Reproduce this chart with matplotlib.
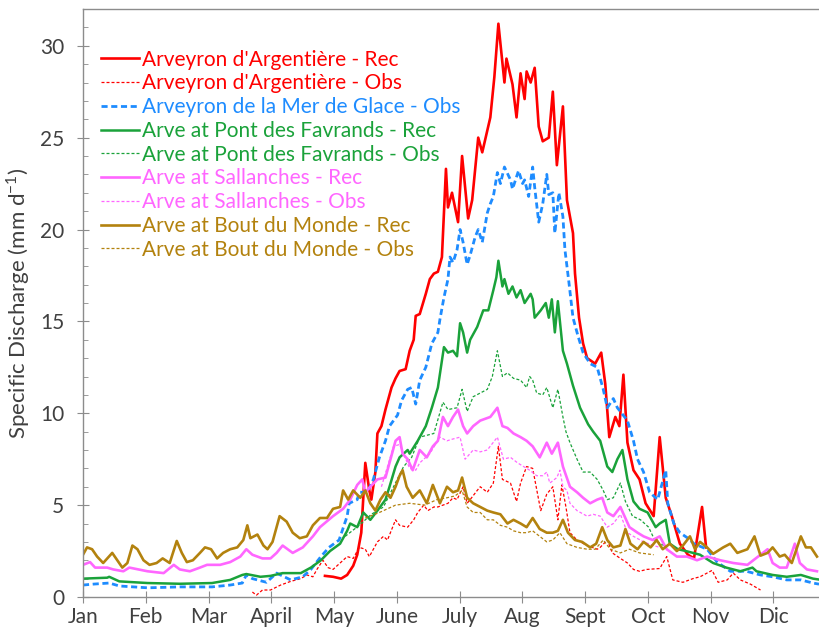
import matplotlib
matplotlib.use("Agg")
import matplotlib.pyplot as plt
from matplotlib.ticker import MultipleLocator, FixedLocator
import numpy as np

# ---------------- data (day of year, specific discharge mm/d) ----------------
months = ["Jan", "Feb", "Mar", "April", "May", "June", "July", "Aug", "Sept", "Oct", "Nov", "Dic"]

arg_rec_day = [120, 124, 128, 131, 134, 136, 138, 140, 142, 143, 145, 146, 148, 150, 153, 155, 157, 160, 162, 164,
               165, 167, 170, 172, 174, 176, 178, 180, 181, 183, 186, 188, 191, 193, 196, 198, 202, 204, 206, 209,
               210, 213, 215, 217, 219, 220, 222, 224, 226, 228, 231, 233, 235, 238, 240, 243, 244, 246, 248, 250,
               254, 257, 259, 261, 264, 266, 268, 270, 273, 276, 279, 283, 286, 289, 292, 296, 300, 303, 307, 309]
arg_rec_val = [1.15, 1.1, 1.0, 1.2, 1.7, 2.3, 3.5, 7.3, 5.8, 5.3, 6.8, 8.9, 9.3, 10.2, 11.4, 11.9, 12.3, 12.4, 13.4, 14.0,
               15.3, 15.4, 16.5, 17.3, 17.6, 17.7, 18.5, 23.3, 21.2, 22.0, 20.4, 24.0, 20.6, 21.6, 25.0, 24.2, 26.1, 28.3, 31.2, 28.0,
               29.3, 27.9, 26.1, 28.5, 27.1, 28.6, 28.0, 28.8, 25.6, 24.8, 25.0, 27.5, 23.5, 26.7, 21.6, 19.8, 17.6, 15.2, 13.8, 13.0,
               12.7, 13.3, 11.6, 8.7, 9.8, 9.3, 12.1, 8.4, 6.9, 6.4, 5.1, 4.4, 8.7, 5.4, 4.4, 2.9, 2.3, 2.1, 4.9, 2.7]

arg_obs_day = [84, 86, 89, 93, 98, 103, 108, 111, 114, 116, 119, 121.5, 124, 127.5, 131, 134, 137, 140, 142, 146,
               149, 151, 155, 157, 161, 164, 166, 169, 171, 174, 176, 181, 183.5, 185.5, 188.5, 190.5, 192, 195.5, 197, 200.5,
               203.5, 206, 208, 212, 215, 217, 220, 223, 227, 230, 233, 235.5, 237.5, 239.5, 241.5, 245, 250, 255, 256.5, 260,
               262.5, 266.5, 270, 273, 276, 279.5, 286, 289.5, 292.5, 297.5, 302.5, 306, 312, 315, 319.5, 322.5, 326, 331, 336]
arg_obs_val = [0.27, 0.1, 0.38, 0.38, 0.65, 0.85, 1.0, 1.2, 1.1, 1.5, 2.0, 1.6, 1.5, 1.85, 2.2, 2.1, 2.7, 2.6, 2.2, 3.0,
               3.3, 3.1, 4.2, 3.9, 3.8, 4.2, 4.6, 5.0, 4.7, 4.9, 4.9, 5.1, 5.4, 5.3, 6.0, 5.1, 5.3, 5.8, 6.0, 5.7,
               6.2, 8.2, 6.4, 6.2, 5.2, 6.2, 7.1, 7.0, 4.7, 5.6, 6.0, 4.2, 6.1, 4.9, 3.5, 3.1, 2.8, 2.6, 2.7, 3.1,
               2.4, 2.1, 1.85, 1.5, 1.4, 1.5, 1.55, 2.2, 0.93, 0.8, 1.0, 1.1, 1.45, 0.8, 0.93, 1.3, 0.93, 0.7, 0.38]

mdg_obs_day = [0, 5, 13, 18, 32, 48, 64, 73, 79, 81, 84, 91, 96, 103, 109, 113, 118, 122, 127, 131,
               132, 136, 137, 141, 144, 147, 150, 152, 156, 158, 161, 163, 165, 167, 170, 173, 176, 177, 179, 181,
               182, 183.5, 185.5, 187, 188.5, 190.5, 192, 194.5, 196, 198, 200.5, 202, 203.5, 205.5, 207, 209, 212, 213, 216, 218,
               219, 221, 223, 224, 226, 228, 230, 231, 233, 234, 236, 238, 239, 241, 243, 245.5, 248, 251.5, 255, 258,
               260, 263, 265, 270, 273, 275, 278, 281, 285, 289, 290, 293, 296, 300, 303, 309.5, 314.5, 321, 329, 336,
               342, 349, 356, 362, 365]
mdg_obs_val = [0.65, 0.7, 0.76, 0.6, 0.5, 0.55, 0.55, 0.65, 0.76, 1.2, 1.0, 0.8, 1.3, 0.93, 1.1, 1.5, 2.2, 2.7, 3.1, 4.4,
               5.1, 5.3, 5.7, 5.7, 6.4, 7.6, 8.5, 9.3, 9.9, 10.7, 11.3, 11.4, 10.5, 11.8, 12.5, 13.8, 14.4, 15.1, 16.3, 17.3,
               18.5, 18.2, 18.9, 20.0, 19.3, 18.1, 18.6, 19.6, 20.0, 19.3, 20.9, 21.4, 21.8, 23.1, 22.5, 23.4, 22.7, 22.2, 23.2, 22.5,
               22.7, 21.8, 23.4, 22.3, 20.4, 21.4, 23.0, 21.9, 22.0, 19.8, 22.0, 20.7, 18.9, 17.1, 15.2, 14.2, 13.3, 12.7, 12.5, 11.3,
               10.3, 10.8, 10.3, 9.6, 8.5, 7.5, 6.8, 5.7, 5.3, 6.9, 5.1, 4.0, 3.5, 3.2, 2.9, 2.6, 1.9, 1.4, 1.4, 1.2,
               1.1, 0.93, 0.93, 0.76, 0.7]

pf_rec_day = [0, 12, 13, 18, 32, 48, 64, 73, 79, 81, 88, 93, 99, 108, 113, 118, 122.5, 127.5, 131, 132.5,
              136, 139, 142.5, 146, 150, 152, 155, 157, 161, 162, 166, 170, 173, 176, 179, 181, 183.5, 185.5, 187, 188.5,
              190.5, 192, 195.5, 198.5, 201, 203.5, 205, 206, 208, 209, 211, 213, 215, 217, 219, 222, 223, 224, 227, 229.5,
              231, 232.5, 234, 235.5, 238, 240, 243, 246.5, 250.5, 253, 256.5, 260, 262.5, 265, 267.5, 270, 273, 276, 280, 284,
              286, 289, 291, 295, 299, 306, 312.5, 319, 326, 332, 334, 342, 349, 356, 362, 365]
pf_rec_val = [1.0, 1.05, 1.1, 0.85, 0.76, 0.72, 0.76, 0.93, 1.2, 1.25, 1.1, 1.15, 1.3, 1.3, 1.6, 2.0, 2.5, 2.9, 3.6, 4.0,
              3.8, 4.6, 4.2, 4.7, 5.3, 6.0, 7.1, 7.6, 8.0, 7.8, 8.5, 9.3, 10.3, 11.4, 13.6, 13.3, 13.4, 13.1, 14.9, 14.4,
              13.3, 14.0, 14.7, 15.6, 15.6, 16.7, 17.4, 18.3, 16.9, 17.3, 16.5, 16.9, 16.3, 16.7, 16.0, 16.5, 16.2, 15.2, 15.6, 16.0,
              15.2, 16.2, 14.4, 16.1, 13.4, 12.7, 11.5, 10.3, 9.4, 9.0, 8.5, 7.1, 6.8, 7.5, 8.0, 6.4, 5.2, 4.8, 4.6, 3.8,
              4.0, 4.2, 2.9, 2.6, 2.5, 2.3, 1.85, 1.6, 1.4, 1.6, 1.4, 1.2, 1.1, 1.2, 1.0, 0.95]

pf_obs_day = [130, 137, 143, 149, 154, 159, 163, 167, 174, 178.5, 181, 185.5, 188, 190.5, 193.5, 197, 200.5, 203, 205.5, 208,
              210.5, 213.5, 217, 220, 221.5, 223, 225, 228, 230, 233, 235.5, 238, 239.5, 241.5, 245, 248, 251.5, 255, 258, 260,
              263, 266.5, 269, 272.5, 276.5, 280.5, 283.5, 289.5]
pf_obs_val = [3.3, 3.9, 4.5, 4.9, 6.0, 7.1, 7.6, 8.7, 8.9, 10.6, 10.2, 10.3, 11.3, 10.1, 10.9, 11.1, 11.3, 12.0, 13.4, 12.0,
              12.2, 11.9, 11.8, 11.4, 12.0, 11.8, 11.1, 11.0, 11.4, 10.3, 11.3, 9.8, 9.0, 8.4, 7.5, 6.8, 6.8, 6.4, 5.8, 5.3,
              5.4, 6.2, 5.2, 4.4, 4.2, 3.8, 3.1, 2.7]

sal_rec_day = [0, 3.5, 6, 12, 15, 20, 23, 32, 40, 45, 48, 53, 58, 61.5, 68, 73, 78, 81, 84, 89,
               93, 96, 99, 104, 109, 114, 117.5, 124, 129, 132.5, 136, 138.5, 140, 142.5, 146, 150, 152.5, 155, 157, 158.5,
               161, 163.5, 167, 170.5, 173.5, 176, 178.5, 181, 183.5, 186, 188.5, 190.5, 193.5, 197, 202, 205.5, 208, 210.5, 213.5, 217,
               220, 223, 226.5, 230, 232.5, 235.5, 238, 241.5, 245, 248, 251.5, 255, 257.5, 260, 263, 266.5, 271, 275, 278, 282.5,
               286, 289.5, 294.5, 299.5, 304.5, 309.5, 316, 322.5, 329.5, 339.5, 342, 345.5, 349, 353, 355.5, 359, 364]
sal_rec_val = [1.75, 1.9, 1.6, 1.6, 1.5, 1.4, 1.6, 1.4, 1.3, 1.75, 1.5, 1.4, 1.6, 1.75, 1.75, 1.9, 2.2, 2.6, 2.3, 2.1,
               2.1, 2.4, 2.8, 2.4, 2.7, 3.3, 3.8, 4.4, 4.8, 5.3, 6.1, 6.4, 5.7, 6.0, 6.4, 6.5, 7.5, 8.5, 8.7, 7.8,
               7.5, 6.9, 8.0, 7.6, 8.2, 8.5, 9.8, 9.3, 9.8, 10.2, 9.3, 8.9, 9.3, 9.6, 9.8, 10.3, 9.3, 9.2, 8.9, 8.7,
               8.5, 8.2, 7.6, 8.4, 7.8, 8.4, 7.1, 6.0, 5.7, 5.4, 5.1, 5.3, 5.4, 4.6, 4.4, 4.9, 3.8, 3.5, 3.3, 3.1,
               3.3, 2.6, 2.2, 2.2, 2.0, 2.2, 2.0, 1.85, 1.75, 2.6, 1.85, 1.6, 1.6, 2.9, 1.85, 1.5, 1.4]

sal_obs_day = [148, 154, 157, 162, 165, 167, 172, 177, 180.5, 183.5, 187, 189.5, 193.5, 197, 200.5, 205.5, 208.5, 212, 215.5, 218.5,
               221.5, 225, 228, 230, 231.5, 235, 236.5, 238, 240, 241.5, 245, 250, 253, 256.5, 260, 263, 266.5, 270, 273, 278,
               283, 286]
sal_obs_val = [6.0, 8.2, 8.3, 7.0, 6.9, 7.3, 7.8, 8.7, 8.5, 8.6, 8.7, 7.5, 8.0, 7.9, 8.0, 8.7, 7.5, 7.6, 7.3, 7.1,
               6.9, 6.6, 6.6, 6.8, 6.2, 6.5, 6.9, 6.0, 5.8, 5.1, 4.7, 4.4, 4.5, 4.4, 3.8, 4.0, 4.5, 3.5, 3.3, 3.0,
               2.8, 2.7]

bdm_rec_day = [0, 2, 4.5, 7, 10, 14.5, 17, 19.5, 22, 24.5, 27, 30, 33, 36.5, 39.5, 43, 46.5, 49, 51.5, 54.5,
               58, 60.5, 63.5, 66.5, 69.5, 73, 76.5, 79.5, 81.5, 83, 86.5, 89.5, 91.5, 94, 97.5, 101, 104, 107.5, 111, 114,
               117.5, 121, 124, 127.5, 129, 131.5, 134, 137.5, 140, 142.5, 145, 147.5, 150, 152.5, 155, 157, 158.5, 160.5, 163.5, 167,
               170.5, 173.5, 177, 180.5, 183.5, 186, 188, 190.5, 193.5, 197, 200.5, 203.5, 207, 210.5, 213.5, 217, 220, 223, 226.5, 230,
               233, 235.5, 238, 240.5, 244, 247.5, 251.5, 254.5, 257.5, 260, 263, 266.5, 269, 271.5, 275, 278, 281.5, 284.5, 287.5, 291,
               294.5, 297.5, 301, 303.5, 306, 309.5, 312.5, 317.5, 321, 324.5, 329.5, 333, 336, 339.5, 342, 345.5, 348, 351.5, 356, 358.5,
               361, 364]
bdm_rec_val = [2.3, 2.7, 2.6, 2.2, 1.85, 2.4, 2.0, 1.6, 1.85, 2.8, 2.6, 2.0, 1.75, 1.85, 2.1, 1.85, 3.05, 2.4, 1.9, 2.0,
               2.4, 2.7, 2.6, 2.1, 2.4, 2.6, 2.7, 3.1, 3.9, 3.2, 3.4, 2.8, 2.6, 3.0, 4.4, 4.1, 3.5, 3.2, 3.3, 3.9,
               4.3, 4.3, 4.8, 4.9, 5.8, 5.3, 5.8, 5.4, 5.8, 5.1, 4.7, 5.3, 5.7, 5.4, 6.0, 6.6, 6.9, 6.0, 5.4, 5.8,
               5.1, 6.1, 5.1, 6.0, 5.7, 5.8, 6.5, 5.4, 5.1, 4.9, 4.7, 4.6, 4.5, 4.0, 4.2, 4.0, 3.8, 4.3, 3.7, 3.5,
               3.5, 3.6, 4.2, 3.5, 3.1, 3.0, 2.7, 2.9, 3.8, 3.1, 2.7, 2.8, 3.7, 2.9, 2.6, 3.0, 2.7, 3.1, 2.6, 2.9,
               2.5, 2.8, 3.3, 2.6, 3.0, 2.7, 2.35, 2.7, 2.9, 2.4, 2.6, 3.3, 2.25, 2.4, 2.7, 2.2, 2.3, 1.85, 3.3, 2.7,
               2.7, 2.2]

bdm_obs_day = [140, 147, 155, 162, 169.5, 175.5, 180.5, 184.5, 188, 190.5, 193.5, 197, 200.5, 203.5, 207, 210.5, 213.5, 217, 220, 223,
               226.5, 230, 233, 236.5, 240, 245, 250, 254, 258, 261.5, 266.5, 271, 276, 283]
bdm_obs_val = [4.3, 4.6, 5.0, 5.1, 5.0, 5.3, 5.4, 5.5, 5.8, 4.9, 4.6, 4.6, 4.2, 4.2, 3.9, 3.8, 3.6, 3.5, 3.5, 3.6,
               3.3, 3.0, 3.1, 3.5, 2.9, 2.7, 2.6, 2.6, 3.1, 2.6, 2.4, 2.6, 2.4, 2.3]

labels = ["Arveyron d'Argentière - Rec", "Arveyron d'Argentière - Obs", "Arveyron de la Mer de Glace - Obs",
          "Arve at Pont des Favrands - Rec", "Arve at Pont des Favrands - Obs", "Arve at Sallanches - Rec",
          "Arve at Sallanches - Obs", "Arve at Bout du Monde - Rec", "Arve at Bout du Monde - Obs"]

# ---------------- style ----------------
RED, BLUE, GREEN, PINK, BROWN = "#FF0000", "#1E8CFF", "#1AA23A", "#FF66FF", "#B3820E"
GREY = "#404040"
plt.rcParams["font.family"] = ["Lato", "DejaVu Sans"]

fig = plt.figure(figsize=(8.19, 6.29), dpi=100)
ax = fig.add_axes([83 / 819, 32 / 629, 736 / 819, 588 / 629])

thin = (0, (2.4, 1.6))
series = [
    (arg_rec_day, arg_rec_val, RED, "-", 1.9),
    (arg_obs_day, arg_obs_val, RED, thin, 0.9),
    (mdg_obs_day, mdg_obs_val, BLUE, (0, (2.2, 1.3)), 2.0),
    (pf_rec_day, pf_rec_val, GREEN, "-", 1.8),
    (pf_obs_day, pf_obs_val, GREEN, thin, 0.9),
    (sal_rec_day, sal_rec_val, PINK, "-", 1.9),
    (sal_obs_day, sal_obs_val, PINK, thin, 0.9),
    (bdm_rec_day, bdm_rec_val, BROWN, "-", 1.9),
    (bdm_obs_day, bdm_obs_val, BROWN, thin, 0.9),
]
for (d, v, c, ls, lw), lab in zip(series, labels):
    ax.plot(d, v, color=c, linestyle=ls, linewidth=lw, label=lab)

ax.set_xlim(0, 365)
ax.set_ylim(0, 32)
ax.xaxis.set_major_locator(FixedLocator(np.arange(12) * 31.125))
ax.set_xticklabels(months)
ax.yaxis.set_major_locator(MultipleLocator(5))
ax.yaxis.set_minor_locator(MultipleLocator(1))

for s in ["left", "bottom", "top"]:
    ax.spines[s].set_color("#8C8C8C")
    ax.spines[s].set_linewidth(1.0)
ax.spines["right"].set_visible(False)
ax.tick_params(axis="both", which="major", direction="inout", length=9, color="#8C8C8C",
               labelsize=15, labelcolor=GREY)
ax.tick_params(axis="y", which="minor", direction="in", length=3.5, color="#8C8C8C")
ax.tick_params(axis="x", which="major", pad=3)
ax.tick_params(axis="y", which="major", pad=9)

ax.set_ylabel("Specific Discharge (mm d$^{\\mathregular{-1}}$)", fontsize=16, color=GREY, labelpad=6)

leg = ax.legend(loc="upper left", bbox_to_anchor=(0.025, 0.931), frameon=False, fontsize=15,
                handlelength=1.8, handletextpad=0.15, labelspacing=0.18, borderaxespad=0, borderpad=0)
for txt, (d, v, c, ls, lw) in zip(leg.get_texts(), series):
    txt.set_color(c)

fig.savefig("out.png", dpi=100)
